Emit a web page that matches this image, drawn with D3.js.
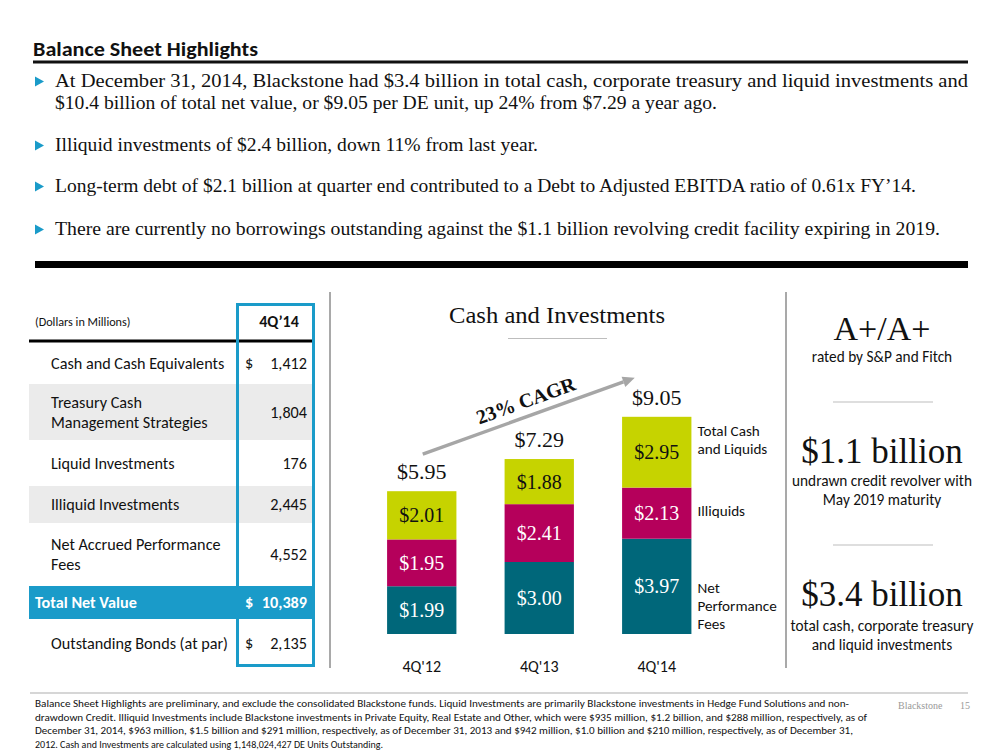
<!DOCTYPE html>
<html><head><meta charset="utf-8">
<script src="https://cdn.jsdelivr.net/npm/d3@7"></script>
<style>body{margin:0;background:#fff}svg{display:block}</style>
</head><body><svg id="c" width="1000" height="750"></svg>
<script>
// ---------- DATA ----------
const categories = ["4Q'12", "4Q'13", "4Q'14"];
const netPerformanceFees = [1.99, 3.00, 3.97];
const illiquids = [1.95, 2.41, 2.13];
const totalCashLiquids = [2.01, 1.88, 2.95];
const totals = [5.95, 7.29, 9.05];
const seriesKeys = ["npf", "ill", "tcl"];
const seriesLegend = [["Net", "Performance", "Fees"], ["Illiquids"], ["Total Cash", "and Liquids"]];
const cagrLabel = "23% CAGR";

const tableHeader = ["(Dollars in Millions)", "4Q\u201914"];
const tableLabels = [["Cash and Cash Equivalents"], ["Treasury Cash", "Management Strategies"], ["Liquid Investments"],
  ["Illiquid Investments"], ["Net Accrued Performance", "Fees"], ["Total Net Value"], ["Outstanding Bonds (at par)"]];
const tableValues = [1412, 1804, 176, 2445, 4552, 10389, 2135];
const tableDollar = [true, false, false, false, false, true, true];

const bullets = [
  ["At December 31, 2014, Blackstone had $3.4 billion in total cash, corporate treasury and liquid investments and",
   "$10.4 billion of total net value, or $9.05 per DE unit, up 24% from $7.29 a year ago."],
  ["Illiquid investments of $2.4 billion, down 11% from last year."],
  ["Long-term debt of $2.1 billion at quarter end contributed to a Debt to Adjusted EBITDA ratio of 0.61x FY\u201914."],
  ["There are currently no borrowings outstanding against the $1.1 billion revolving credit facility expiring in 2019."]
];
const highlights = [
  {big: "A+/A+", small: ["rated by S&P and Fitch"]},
  {big: "$1.1 billion", small: ["undrawn credit revolver with", "May 2019 maturity"]},
  {big: "$3.4 billion", small: ["total cash, corporate treasury", "and liquid investments"]}
];
const footnote = [
  "Balance Sheet Highlights are preliminary, and exclude the consolidated Blackstone funds. Liquid Investments are primarily Blackstone investments in Hedge Fund Solutions and non-",
  "drawdown Credit. Illiquid Investments include Blackstone investments in Private Equity, Real Estate and Other, which were $935 million, $1.2 billion, and $288 million, respectively, as of",
  "December 31, 2014, $963 million, $1.5 billion and $291 million, respectively, as of December 31, 2013 and $942 million, $1.0 billion and $210 million, respectively, as of December 31,",
  "2012. Cash and Investments are calculated using 1,148,024,427 DE Units Outstanding."
];
const pageTitle = "Balance Sheet Highlights";
const chartTitle = "Cash and Investments";

// ---------- STYLE ----------
const SERIF = "Georgia, 'Liberation Serif', serif";
const SANS = "Calibri, Carlito, Lato, sans-serif";
const BLUE = "#1a9bc9", TEAL = "#00677a", MAG = "#b5005b", LIME = "#c6d300", INK = "#111";
const svg = d3.select("#c");

function fit(sel, w) {
  sel.each(function () {
    const n = this.getComputedTextLength();
    if (Math.abs(n - w) > 1) d3.select(this).attr("textLength", w).attr("lengthAdjust", "spacingAndGlyphs");
  });
  return sel;
}

// ---------- HEADER ----------
fit(svg.append("text").attr("x", 33).attr("y", 56).text(pageTitle)
  .style("font", "bold 20px " + SANS).attr("fill", INK), 225);
svg.append("rect").attr("x", 33).attr("y", 60.5).attr("width", 935).attr("height", 3).attr("fill", INK);

const bulletY = [[87, 109], [151], [192], [235]];
const bulletW = [[913, 662], [483], [861], [885]];
bullets.forEach((lines, i) => {
  const y0 = bulletY[i][0];
  svg.append("path").attr("d", `M35,${y0 - 10.5} L44,${y0 - 5.5} L35,${y0 - 0.5} Z`).attr("fill", BLUE);
  lines.forEach((t, j) => {
    fit(svg.append("text").attr("x", 55).attr("y", bulletY[i][j]).text(t)
      .style("font", "18px " + SERIF).attr("fill", INK), bulletW[i][j]);
  });
});
svg.append("rect").attr("x", 35).attr("y", 261).attr("width", 933).attr("height", 7).attr("fill", "#000");

// ---------- TABLE ----------
const TF = "16.2px ";
const rowTops = [343, 383, 441, 485, 524, 585, 620, 667];
const rowFill = ["none", "#ebebeb", "none", "#ebebeb", "none", BLUE, "none"];
svg.append("text").attr("x", 35).attr("y", 326).text(tableHeader[0]).style("font", "12.2px " + SANS).attr("fill", INK);
svg.append("text").attr("x", 279).attr("y", 327).attr("text-anchor", "middle").text(tableHeader[1])
  .style("font", "bold 16px " + SANS).attr("fill", INK);
svg.append("rect").attr("x", 29).attr("y", 339.5).attr("width", 284).attr("height", 3).attr("fill", "#000");
const fmt = d3.format(",");
tableLabels.forEach((lab, i) => {
  const top = rowTops[i], bot = rowTops[i + 1], mid = (top + bot) / 2;
  const isTotal = i === 5;
  if (rowFill[i] !== "none")
    svg.append("rect").attr("x", 29).attr("y", top + 1).attr("width", 284).attr("height", bot - top - 2).attr("fill", rowFill[i]);
  const col = isTotal ? "#fff" : INK;
  const weight = isTotal ? "bold " : "";
  lab.forEach((t, j) => {
    const y = mid + 5.5 + (j - (lab.length - 1) / 2) * 20;
    svg.append("text").attr("x", isTotal ? 35 : 51).attr("y", y).text(t)
      .style("font", weight + TF + SANS).attr("fill", col);
  });
  svg.append("text").attr("x", 307).attr("y", mid + 5.5).attr("text-anchor", "end").text(fmt(tableValues[i]))
    .style("font", weight + TF + SANS).attr("fill", col);
  if (tableDollar[i])
    svg.append("text").attr("x", 245).attr("y", mid + 5.5).text("$").style("font", weight + TF + SANS).attr("fill", col);
});
svg.append("rect").attr("x", 237.5).attr("y", 304.5).attr("width", 76).attr("height", 361).attr("fill", "none")
  .attr("stroke", BLUE).attr("stroke-width", 3);

// dividers
[330, 786].forEach(x => svg.append("line").attr("x1", x).attr("x2", x).attr("y1", 292).attr("y2", 668)
  .attr("stroke", "#8c8c8c").attr("stroke-width", 1.5));

// ---------- CHART ----------
fit(svg.append("text").attr("x", 557).attr("y", 323).attr("text-anchor", "middle").text(chartTitle)
  .style("font", "23px " + SERIF).attr("fill", INK), 216);
svg.append("line").attr("x1", 508).attr("x2", 607).attr("y1", 338.5).attr("y2", 338.5).attr("stroke", "#bdbdbd").attr("stroke-width", 1.2);

const rows = categories.map((c, i) => ({cat: c, npf: netPerformanceFees[i], ill: illiquids[i], tcl: totalCashLiquids[i], total: totals[i]}));
const x = d3.scaleBand().domain(categories).range([363, 715.5]).paddingInner(0.41).paddingOuter(0.205);
const y = d3.scaleLinear().domain([0, 10]).range([634, 394]);
const color = d3.scaleOrdinal().domain(seriesKeys).range([TEAL, MAG, LIME]);
const labelColor = d3.scaleOrdinal().domain(seriesKeys).range(["#fff", "#fff", INK]);
const stack = d3.stack().keys(seriesKeys)(rows);
const money = v => "$" + d3.format(".2f")(v);

const layer = svg.append("g").selectAll("g").data(stack).join("g").attr("fill", d => color(d.key));
layer.selectAll("rect").data(d => d).join("rect")
  .attr("x", d => x(d.data.cat)).attr("width", x.bandwidth())
  .attr("y", d => y(d[1])).attr("height", d => y(d[0]) - y(d[1]));
svg.append("g").selectAll("g").data(stack).join("g").each(function (s) {
  d3.select(this).selectAll("text").data(s).join("text")
    .attr("x", d => x(d.data.cat) + x.bandwidth() / 2)
    .attr("y", d => (y(d[0]) + y(d[1])) / 2 + 7)
    .attr("text-anchor", "middle").attr("fill", labelColor(s.key))
    .style("font", "20px " + SERIF)
    .text(d => money(d[1] - d[0]));
});
svg.append("g").selectAll("text").data(rows).join("text")
  .attr("x", d => x(d.cat) + x.bandwidth() / 2).attr("y", d => y(d.total) - 12)
  .attr("text-anchor", "middle").style("font", "22px " + SERIF).attr("fill", INK)
  .text(d => money(d.total));

// x axis (category labels)
const xAxis = svg.append("g").attr("transform", "translate(0,634)")
  .call(d3.axisBottom(x).tickSize(0).tickPadding(27));
xAxis.select(".domain").remove();
xAxis.selectAll("text").style("font", "16px " + SANS).attr("fill", INK);

// legend labels beside last bar
const last = stack.map(s => s[s.length - 1]);
const lx = x(categories[categories.length - 1]) + x.bandwidth() + 6;
const legendOffset = [20, -2, -12];
seriesKeys.forEach((k, i) => {
  const seg = last[i], mid = (y(seg[0]) + y(seg[1])) / 2 + legendOffset[i];
  const lines = seriesLegend[i];
  lines.forEach((t, j) => {
    svg.append("text").attr("x", lx).attr("y", mid + 5 + (j - (lines.length - 1) / 2) * 18)
      .text(t).style("font", "15.2px " + SANS).attr("fill", INK);
  });
});

// CAGR arrow
const ax0 = x(categories[0]) + x.bandwidth() / 2 + 1, ay0 = y(totals[0]) - 37;
const ax1 = x(categories[2]) + x.bandwidth() / 2 - 22, ay1 = y(totals[2]) - 39;
const ang = Math.atan2(ay1 - ay0, ax1 - ax0);
const hl = 12, hw = 5.5;
const bx = ax1 - hl * Math.cos(ang), by = ay1 - hl * Math.sin(ang);
svg.append("line").attr("x1", ax0).attr("y1", ay0).attr("x2", bx).attr("y2", by)
  .attr("stroke", "#a6a6a6").attr("stroke-width", 3.5);
svg.append("path").attr("fill", "#a6a6a6").attr("d",
  `M${ax1},${ay1} L${bx - hw * Math.sin(ang)},${by + hw * Math.cos(ang)} L${bx + hw * Math.sin(ang)},${by - hw * Math.cos(ang)} Z`);
const deg = ang * 180 / Math.PI;
svg.append("text").attr("transform", `translate(528,407) rotate(${deg})`).attr("text-anchor", "middle")
  .text(cagrLabel).style("font", "bold 20px " + SERIF).attr("fill", INK);

// ---------- RIGHT PANEL ----------
const hBig = [340, 463, 606];
const hSmallStart = [362, 486, 631];
highlights.forEach((h, i) => {
  svg.append("text").attr("x", 882).attr("y", hBig[i]).attr("text-anchor", "middle").text(h.big)
    .style("font", (i === 0 ? "34px " : "35px ") + SERIF).attr("fill", INK);
  h.small.forEach((t, j) => svg.append("text").attr("x", 882).attr("y", hSmallStart[i] + j * 19)
    .attr("text-anchor", "middle").text(t).style("font", "15.3px " + SANS).attr("fill", INK));
});
[402, 545].forEach(yy => svg.append("line").attr("x1", 833).attr("x2", 933).attr("y1", yy).attr("y2", yy)
  .attr("stroke", "#bdbdbd").attr("stroke-width", 1.2));

// ---------- FOOTER ----------
svg.append("line").attr("x1", 30).attr("x2", 968).attr("y1", 693).attr("y2", 693).attr("stroke", "#c8c8c8").attr("stroke-width", 1.5);
const footW = [814, 832, 818, null];
footnote.forEach((t, i) => {
  const s = svg.append("text").attr("x", 35).attr("y", 707 + i * 13.5).text(t).style("font", "10px " + SANS).attr("fill", INK);
  if (footW[i]) fit(s, footW[i]);
});
svg.append("text").attr("x", 898).attr("y", 709).text("Blackstone").style("font", "10px " + SERIF).attr("fill", "#999");
svg.append("text").attr("x", 960).attr("y", 709).text("15").style("font", "10px " + SERIF).attr("fill", "#999");
</script></body></html>
